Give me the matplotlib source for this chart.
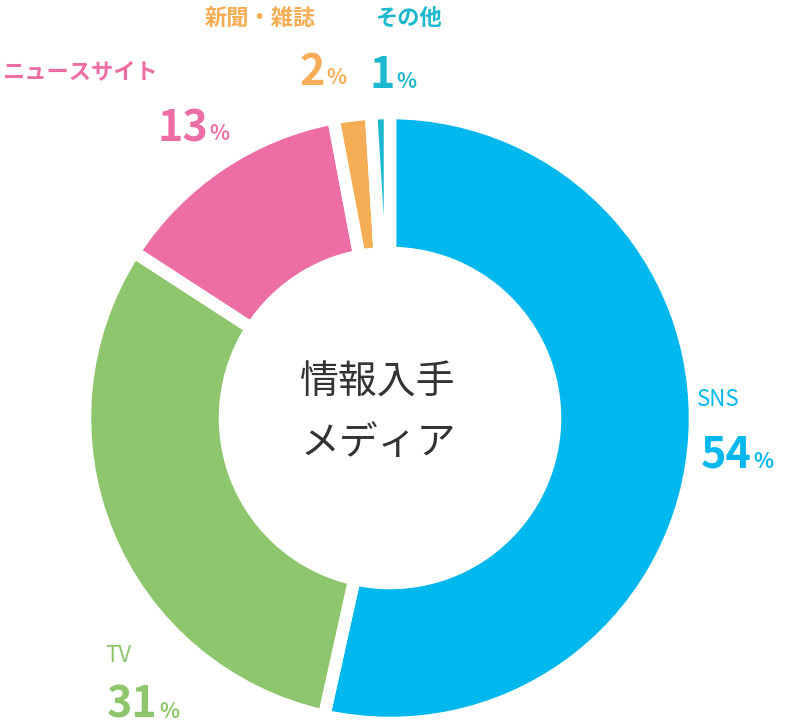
import matplotlib
matplotlib.use("Agg")
import matplotlib.pyplot as plt

plt.rcParams['font.family'] = ['Noto Sans CJK JP', 'DejaVu Sans']

categories = ["SNS", "TV", "ニュースサイト", "新聞・雑誌", "その他"]
values = [54, 31, 13, 2, 1]
colors = ["#00B8EE", "#8DC66C", "#EC6EA5", "#F5AE55", "#1CB8CF"]
numbers = ["54", "31", "13", "2", "1"]

fig = plt.figure(figsize=(7.86, 7.27), dpi=100)
ax = fig.add_axes([0, 0, 1, 1])

H = 727
ax.pie(values, colors=colors, startangle=90, counterclock=False,
       center=(390, H - 418), radius=305,
       wedgeprops=dict(width=140, edgecolor='white', linewidth=9, joinstyle='round'))
ax.set_xlim(0, 786)
ax.set_ylim(0, 727)
ax.set_aspect('equal')
ax.axis('off')

pos = [
    (697, 400, 752, 455, 'left'),
    (105, 655, 158, 705, 'left'),
    (2, 72, 208, 128, 'left'),
    (205, 18, 325, 72, 'left'),
    (375, 18, 395, 75, 'left'),
]
for (nx, ny, px, py, ha), cat, num, c in zip(pos, categories, numbers, colors):
    ax.text(nx, H - ny, cat, color=c, fontsize=16, ha=ha, va='center',
            fontweight='normal' if cat in ("SNS", "TV") else 'bold')
    ax.text(px, H - py, num, color=c, fontsize=31, fontweight='bold', ha='right', va='center')
    ax.text(px + 1, H - py - 6, "%", color=c, fontsize=15, fontweight='bold', ha='left', va='center')

ax.text(378, H - 383, "情報入手", fontsize=28, ha='center', va='center', color='#333333')
ax.text(378, H - 443, "メディア", fontsize=28, ha='center', va='center', color='#333333')

fig.savefig("out.png", dpi=100)
